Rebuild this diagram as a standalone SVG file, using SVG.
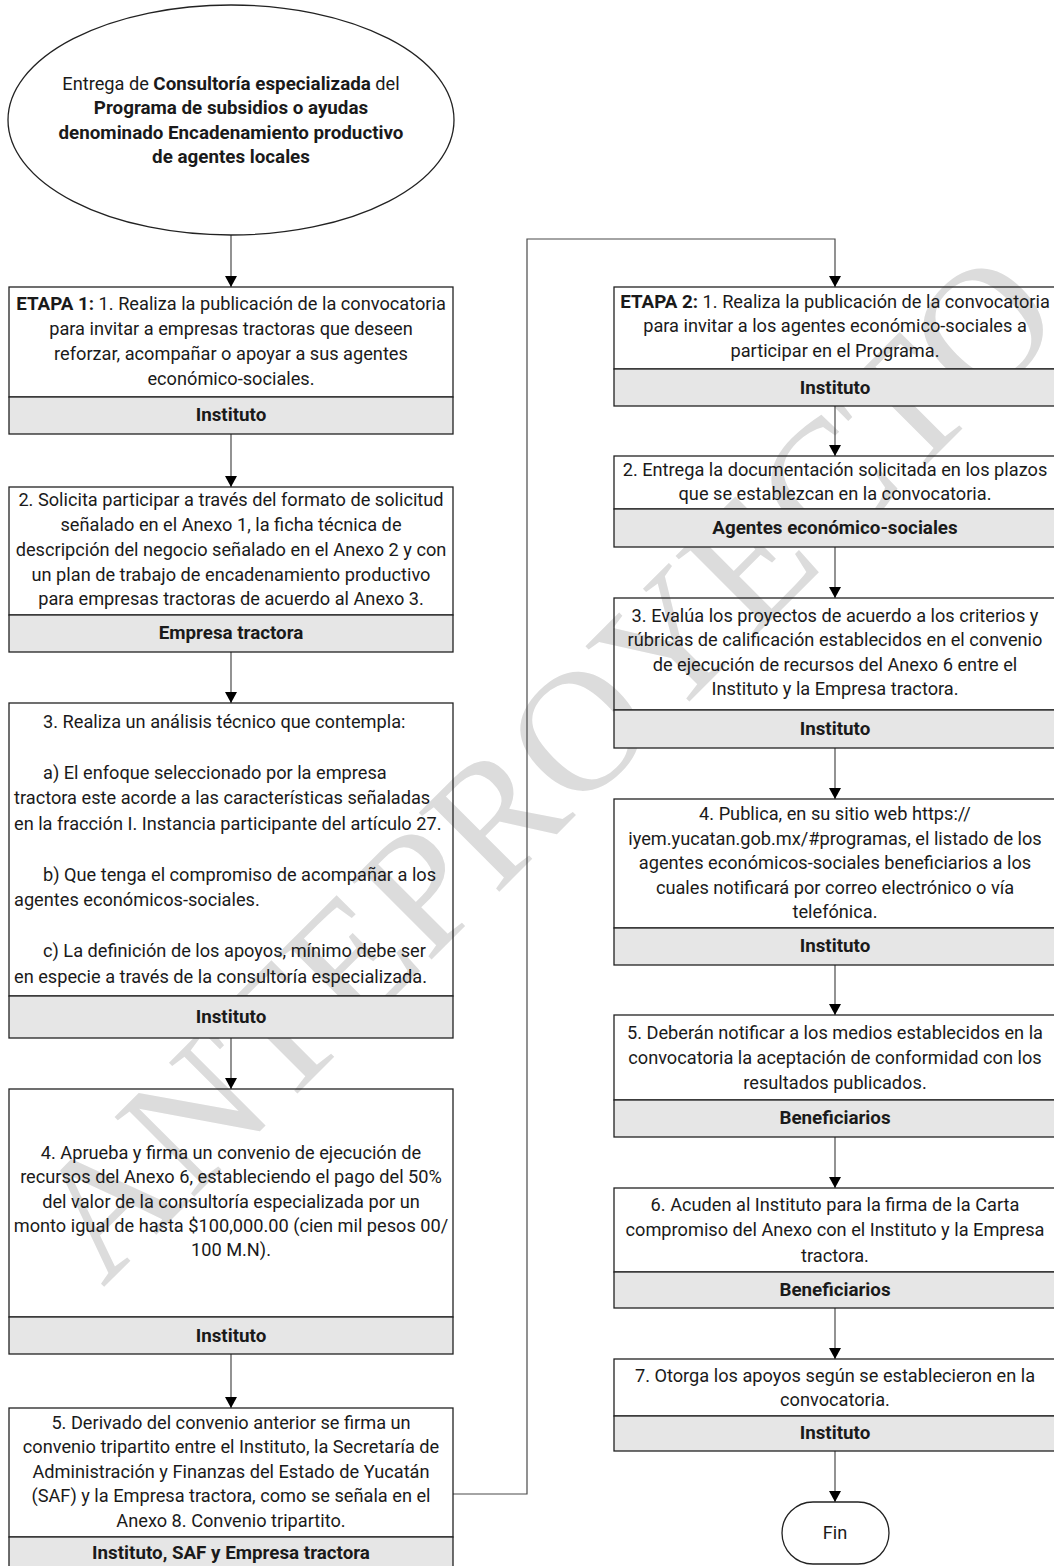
<svg xmlns="http://www.w3.org/2000/svg" width="1054" height="1566" viewBox="0 0 1054 1566">
<style>
.t{font-family:Roboto,"DejaVu Sans Condensed",sans-serif;font-size:18.2px;fill:#1a1a1a;text-anchor:middle}
.l{text-anchor:start}
.b{font-weight:bold;font-size:18.8px}
.box{fill:none;stroke:#222;stroke-width:1.3}
.ft{fill:#e6e6e6;stroke:#222;stroke-width:1.3}
.wm{font-family:"Liberation Serif",serif;font-size:172px;fill:#dcdcdc;text-anchor:middle}
.c{fill:none;stroke:#4a4a4a;stroke-width:1.2}
</style>
<defs>
<marker id="ah" markerWidth="11" markerHeight="12" refX="11" refY="6" orient="auto" markerUnits="userSpaceOnUse">
<path d="M0,0 L11,6 L0,12 Z" fill="#000"/>
</marker>
</defs>
<rect width="1054" height="1566" fill="#fff"/>
<text class="wm" transform="translate(585,806) rotate(-45)">ANTEPROYECTO</text>

<g id="connectors">
<path class="c" d="M231,235 V287" marker-end="url(#ah)"/>
<path class="c" d="M231,434 V487" marker-end="url(#ah)"/>
<path class="c" d="M231,652 V703" marker-end="url(#ah)"/>
<path class="c" d="M231,1038 V1089" marker-end="url(#ah)"/>
<path class="c" d="M231,1354 V1408" marker-end="url(#ah)"/>
<path class="c" d="M453,1494 H527 V239 H835 V287" marker-end="url(#ah)"/>
<path class="c" d="M835,406 V456" marker-end="url(#ah)"/>
<path class="c" d="M835,547 V598" marker-end="url(#ah)"/>
<path class="c" d="M835,748 V799" marker-end="url(#ah)"/>
<path class="c" d="M835,965 V1015" marker-end="url(#ah)"/>
<path class="c" d="M835,1137 V1188" marker-end="url(#ah)"/>
<path class="c" d="M835,1308 V1359" marker-end="url(#ah)"/>
<path class="c" d="M835,1451 V1502" marker-end="url(#ah)"/>
</g>

<g id="inicio">
<ellipse class="box" cx="231" cy="120" rx="223" ry="115"/>
<text class="t" x="231" y="90">Entrega de <tspan class="b">Consultoría especializada</tspan> del</text>
<text class="t b" x="231" y="114">Programa de subsidios o ayudas</text>
<text class="t b" x="231" y="139">denominado Encadenamiento productivo</text>
<text class="t b" x="231" y="163">de agentes locales</text>
</g>

<g id="e1-paso1">
<rect class="box" x="9" y="287" width="444" height="110"/>
<rect class="ft" x="9" y="397" width="444" height="37"/>
<text class="t" x="231" y="310"><tspan class="b">ETAPA 1:</tspan> 1. Realiza la publicación de la convocatoria</text>
<text class="t" x="231" y="335">para invitar a empresas tractoras que deseen</text>
<text class="t" x="231" y="360">reforzar, acompañar o apoyar a sus agentes</text>
<text class="t" x="231" y="385">económico-sociales.</text>
<text class="t b" x="231" y="421">Instituto</text>
</g>

<g id="e1-paso2">
<rect class="box" x="9" y="487" width="444" height="128"/>
<rect class="ft" x="9" y="615" width="444" height="37"/>
<text class="t" x="231" y="506">2. Solicita participar a través del formato de solicitud</text>
<text class="t" x="231" y="531">señalado en el Anexo 1, la ficha técnica de</text>
<text class="t" x="231" y="556">descripción del negocio señalado en el Anexo 2 y con</text>
<text class="t" x="231" y="581">un plan de trabajo de encadenamiento productivo</text>
<text class="t" x="231" y="605">para empresas tractoras de acuerdo al Anexo 3.</text>
<text class="t b" x="231" y="639">Empresa tractora</text>
</g>

<g id="e1-paso3">
<rect class="box" x="9" y="703" width="444" height="293"/>
<rect class="ft" x="9" y="996" width="444" height="42"/>
<text class="t l" x="43" y="728">3. Realiza un análisis técnico que contempla:</text>
<text class="t l" x="43" y="779">a) El enfoque seleccionado por la empresa</text>
<text class="t l" x="14" y="804">tractora este acorde a las características señaladas</text>
<text class="t l" x="14" y="830">en la fracción I. Instancia participante del artículo 27.</text>
<text class="t l" x="43" y="881">b) Que tenga el compromiso de acompañar a los</text>
<text class="t l" x="14" y="906">agentes económicos-sociales.</text>
<text class="t l" x="43" y="957">c) La definición de los apoyos, mínimo debe ser</text>
<text class="t l" x="14" y="983">en especie a través de la consultoría especializada.</text>
<text class="t b" x="231" y="1023">Instituto</text>
</g>

<g id="e1-paso4">
<rect class="box" x="9" y="1089" width="444" height="228"/>
<rect class="ft" x="9" y="1317" width="444" height="37"/>
<text class="t" x="231" y="1159">4. Aprueba y firma un convenio de ejecución de</text>
<text class="t" x="231" y="1183">recursos del Anexo 6, estableciendo el pago del 50%</text>
<text class="t" x="231" y="1208">del valor de la consultoría especializada por un</text>
<text class="t" x="231" y="1232">monto igual de hasta $100,000.00 (cien mil pesos 00/</text>
<text class="t" x="231" y="1256">100 M.N).</text>
<text class="t b" x="231" y="1342">Instituto</text>
</g>

<g id="e1-paso5">
<rect class="box" x="9" y="1408" width="444" height="129"/>
<rect class="ft" x="9" y="1537" width="444" height="35"/>
<text class="t" x="231" y="1429">5. Derivado del convenio anterior se firma un</text>
<text class="t" x="231" y="1453">convenio tripartito entre el Instituto, la Secretaría de</text>
<text class="t" x="231" y="1478">Administración y Finanzas del Estado de Yucatán</text>
<text class="t" x="231" y="1502">(SAF) y la Empresa tractora, como se señala en el</text>
<text class="t" x="231" y="1527">Anexo 8. Convenio tripartito.</text>
<text class="t b" x="231" y="1559">Instituto, SAF y Empresa tractora</text>
</g>

<g id="e2-paso1">
<rect class="box" x="614" y="287" width="442" height="82"/>
<rect class="ft" x="614" y="369" width="442" height="37"/>
<text class="t" x="835" y="308"><tspan class="b">ETAPA 2:</tspan> 1. Realiza la publicación de la convocatoria</text>
<text class="t" x="835" y="332">para invitar a los agentes económico-sociales a</text>
<text class="t" x="835" y="357">participar en el Programa.</text>
<text class="t b" x="835" y="394">Instituto</text>
</g>

<g id="e2-paso2">
<rect class="box" x="614" y="456" width="442" height="53"/>
<rect class="ft" x="614" y="509" width="442" height="38"/>
<text class="t" x="835" y="476">2. Entrega la documentación solicitada en los plazos</text>
<text class="t" x="835" y="500">que se establezcan en la convocatoria.</text>
<text class="t b" x="835" y="534">Agentes económico-sociales</text>
</g>

<g id="e2-paso3">
<rect class="box" x="614" y="598" width="442" height="112"/>
<rect class="ft" x="614" y="710" width="442" height="38"/>
<text class="t" x="835" y="622">3. Evalúa los proyectos de acuerdo a los criterios y</text>
<text class="t" x="835" y="646">rúbricas de calificación establecidos en el convenio</text>
<text class="t" x="835" y="671">de ejecución de recursos del Anexo 6 entre el</text>
<text class="t" x="835" y="695">Instituto y la Empresa tractora.</text>
<text class="t b" x="835" y="735">Instituto</text>
</g>

<g id="e2-paso4">
<rect class="box" x="614" y="799" width="442" height="129"/>
<rect class="ft" x="614" y="928" width="442" height="37"/>
<text class="t" x="835" y="820">4. Publica, en su sitio web https://</text>
<text class="t" x="835" y="845">iyem.yucatan.gob.mx/#programas, el listado de los</text>
<text class="t" x="835" y="869">agentes económicos-sociales beneficiarios a los</text>
<text class="t" x="835" y="894">cuales notificará por correo electrónico o vía</text>
<text class="t" x="835" y="918">telefónica.</text>
<text class="t b" x="835" y="952">Instituto</text>
</g>

<g id="e2-paso5">
<rect class="box" x="614" y="1015" width="442" height="85"/>
<rect class="ft" x="614" y="1100" width="442" height="37"/>
<text class="t" x="835" y="1039">5. Deberán notificar a los medios establecidos en la</text>
<text class="t" x="835" y="1064">convocatoria la aceptación de conformidad con los</text>
<text class="t" x="835" y="1089">resultados publicados.</text>
<text class="t b" x="835" y="1124">Beneficiarios</text>
</g>

<g id="e2-paso6">
<rect class="box" x="614" y="1188" width="442" height="84"/>
<rect class="ft" x="614" y="1272" width="442" height="36"/>
<text class="t" x="835" y="1211">6. Acuden al Instituto para la firma de la Carta</text>
<text class="t" x="835" y="1236">compromiso del Anexo con el Instituto y la Empresa</text>
<text class="t" x="835" y="1262">tractora.</text>
<text class="t b" x="835" y="1296">Beneficiarios</text>
</g>

<g id="e2-paso7">
<rect class="box" x="614" y="1359" width="442" height="57"/>
<rect class="ft" x="614" y="1416" width="442" height="35"/>
<text class="t" x="835" y="1382">7. Otorga los apoyos según se establecieron en la</text>
<text class="t" x="835" y="1406">convocatoria.</text>
<text class="t b" x="835" y="1439">Instituto</text>
</g>

<g id="fin">
<rect class="box" x="782" y="1502" width="107" height="62" rx="31" ry="31"/>
<text class="t" x="835" y="1539">Fin</text>
</g>
</svg>
